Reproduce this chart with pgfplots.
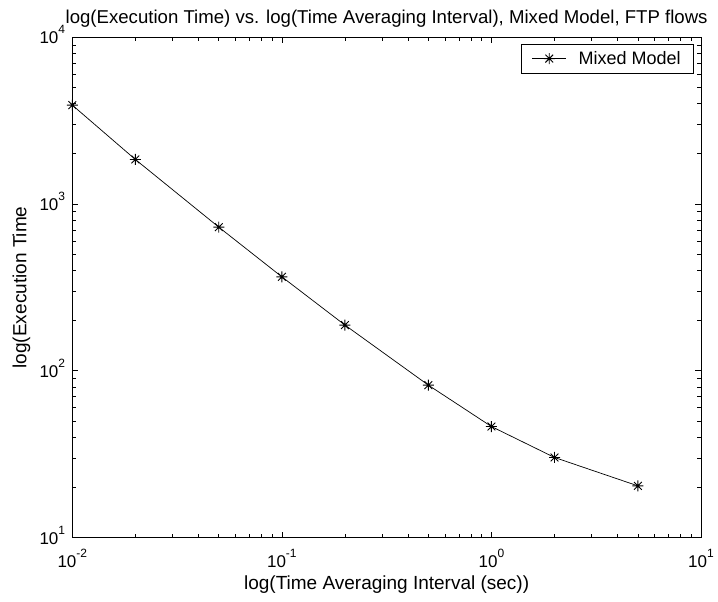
\documentclass[border=0pt]{standalone}
\usepackage{fontspec}
\setmainfont{Liberation Sans}
\usepackage{pgfplots}
\pgfplotsset{compat=1.18}

% power-of-ten tick label with a raised exponent
\newcommand{\ptick}[1]{10\raisebox{10pt}{\fontsize{12}{12}\selectfont #1}}

% eight-armed asterisk marker (plus and cross overlaid)
\pgfdeclareplotmark{mstar}{%
  \pgfpathmoveto{\pgfqpoint{-\pgfplotmarksize}{0pt}}%
  \pgfpathlineto{\pgfqpoint{\pgfplotmarksize}{0pt}}%
  \pgfpathmoveto{\pgfqpoint{0pt}{-\pgfplotmarksize}}%
  \pgfpathlineto{\pgfqpoint{0pt}{\pgfplotmarksize}}%
  \pgfpathmoveto{\pgfqpoint{-.707\pgfplotmarksize}{-.707\pgfplotmarksize}}%
  \pgfpathlineto{\pgfqpoint{.707\pgfplotmarksize}{.707\pgfplotmarksize}}%
  \pgfpathmoveto{\pgfqpoint{-.707\pgfplotmarksize}{.707\pgfplotmarksize}}%
  \pgfpathlineto{\pgfqpoint{.707\pgfplotmarksize}{-.707\pgfplotmarksize}}%
  \pgfusepathqstroke}

\begin{document}
\begin{tikzpicture}
\useasboundingbox (-72.3pt,-64.5pt) rectangle (645.7pt,537.5pt);
\begin{axis}[
  at={(0,0)}, anchor=south west,
  scale only axis, width=628.7pt, height=500.2pt,
  xmode=log, ymode=log,
  xmin=0.01, xmax=10, ymin=10, ymax=10000,
  axis line style={line width=0.9pt},
  tick align=inside,
  major tick length=6pt, minor tick length=4pt,
  every tick/.style={black, line width=0.7pt},
  xtick={0.01,0.1,1,10},
  xticklabels={\ptick{-2},\ptick{-1},\ptick{0},\ptick{1}},
  ytick={10,100,1000,10000},
  yticklabels={\ptick{1},\ptick{2},\ptick{3},\ptick{4}},
  ticklabel style={font=\fontsize{17}{19}\selectfont, inner sep=0pt},
  xticklabel style={anchor=base, yshift=-30pt},
  yticklabel style={anchor=base east, xshift=-7pt, yshift=-6.7pt},
  title={log(Execution Time) vs. log(Time Averaging Interval), Mixed Model, FTP flows},
  every axis title/.style={at={([yshift=14pt]axis description cs:0.5,1)}, anchor=base,
    font=\fontsize{18.6}{20}\selectfont},
  xlabel={log(Time Averaging Interval (sec))},
  ylabel={log(Execution Time},
  every axis x label/.style={at={([yshift=-52.5pt]axis description cs:0.5,0)}, anchor=base,
    font=\fontsize{19}{21}\selectfont},
  every axis y label/.style={at={([xshift=-46pt]axis description cs:0,0.5)}, anchor=base,
    rotate=90, font=\fontsize{19}{21}\selectfont},
  legend style={at={([xshift=-7pt,yshift=-6.7pt]axis description cs:1,1)}, anchor=north east,
    draw=black, line width=0.7pt, inner xsep=11pt, inner ysep=6pt,
    font=\fontsize{18}{20}\selectfont,
    nodes={inner xsep=2pt, inner ysep=1pt},
    /tikz/every odd column/.append style={column sep=10pt}},
  legend cell align=left,
  legend image code/.code={
    \draw[mark repeat=2, mark phase=2, #1, line width=0.7pt]
      plot coordinates {(0pt,0pt) (17pt,0pt) (34pt,0pt)};
  },
]
\addplot[black, line width=0.7pt, mark=mstar, mark size=5.5pt,
  mark options={line width=0.9pt}] coordinates {
  (0.01,3920) (0.02,1850) (0.05,727) (0.1,366) (0.2,188)
  (0.5,82) (1,46.3) (2,30.2) (5,20.4)
};
\legend{Mixed Model}
\end{axis}
\end{tikzpicture}
\end{document}
